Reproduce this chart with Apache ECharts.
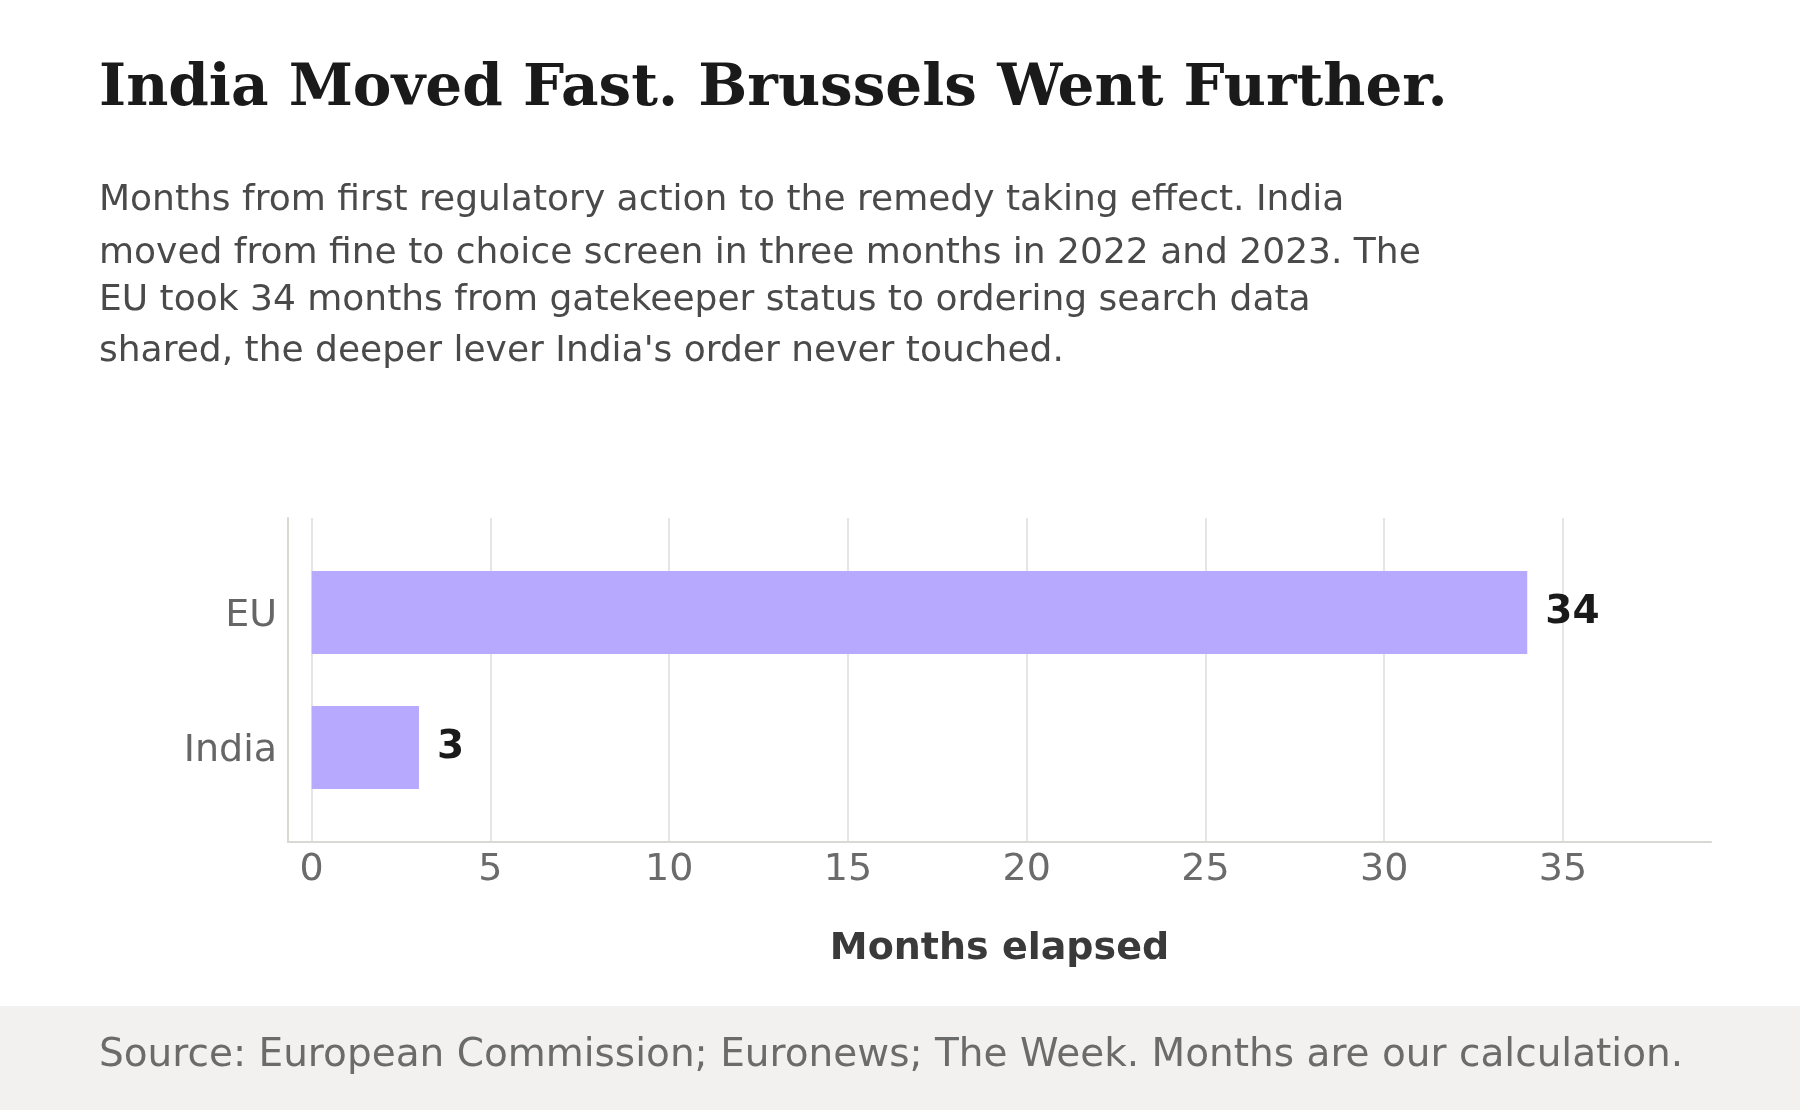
<!DOCTYPE html>
<html>
<head>
<meta charset="utf-8">
<script src="https://cdn.jsdelivr.net/npm/echarts@6/dist/echarts.min.js"></script>
<style>
  html, body { margin: 0; padding: 0; background: #ffffff; }
  #chart { width: 1800px; height: 1110px; }
</style>
</head>
<body>
<div id="chart"></div>
<script>
// ---- data ----
const categories = ['India', 'EU'];
const months = [3, 34];
const xTicks = [0, 5, 10, 15, 20, 25, 30, 35];
const titleText = 'India Moved Fast. Brussels Went Further.';
const subtitleLines = [
  'Months from first regulatory action to the remedy taking effect. India',
  'moved from fine to choice screen in three months in 2022 and 2023. The',
  'EU took 34 months from gatekeeper status to ordering search data',
  "shared, the deeper lever India's order never touched."
];
const axisTitle = 'Months elapsed';
const sourceText = 'Source: European Commission; Euronews; The Week. Months are our calculation.';

// ---- layout ----
const SANS = "'DejaVu Sans', sans-serif";
const SERIF = "'DejaVu Serif', serif";
const X_MIN = -0.663, X_MAX = 39.14;
const subtitleY = [201, 254, 301, 352];

const chart = echarts.init(document.getElementById('chart'), null, { renderer: 'canvas' });

const graphics = [
  { type: 'rect', shape: { x: 0, y: 1006, width: 1800, height: 104 }, style: { fill: '#f2f1ef' }, silent: true },
  { type: 'text', x: 99, y: 90, style: { text: titleText, font: 'bold 58px ' + SERIF, fill: '#1a1a1a', verticalAlign: 'middle' } },
  { type: 'text', x: 99, y: 1056, style: { text: sourceText, font: '39px ' + SANS, fill: '#6b6b6b', verticalAlign: 'middle' } }
];
subtitleLines.forEach((t, i) => {
  graphics.push({ type: 'text', x: 99, y: subtitleY[i], style: { text: t, font: '36px ' + SANS, fill: '#4a4a4a', verticalAlign: 'middle' } });
});

const option = {
  backgroundColor: '#ffffff',
  animation: false,
  grid: [
    { left: 288, right: 89, top: 518, bottom: 268 },
    { left: 288, right: 89, top: 545, bottom: 295 }
  ],
  xAxis: [
    {
      type: 'value', gridIndex: 0, min: X_MIN, max: X_MAX,
      axisLine: { show: true, onZero: false, lineStyle: { color: '#d9d8d2', width: 2 } },
      axisTick: { show: false, customValues: xTicks },
      axisLabel: { customValues: xTicks, margin: 9, fontFamily: SANS, fontSize: 38, color: '#6b6b6b' },
      splitLine: { show: true, lineStyle: { color: '#e6e5e1', width: 2 } },
      name: axisTitle, nameLocation: 'middle', nameGap: 88,
      nameTextStyle: { fontFamily: SANS, fontSize: 38, fontWeight: 'bold', color: '#3a3a3a' }
    },
    {
      type: 'value', gridIndex: 1, min: X_MIN, max: X_MAX, show: false,
      splitLine: { show: false }
    }
  ],
  yAxis: [
    {
      type: 'category', gridIndex: 0, data: categories,
      axisLine: { show: true, onZero: false, lineStyle: { color: '#d9d8d2', width: 2 } },
      axisTick: { show: false }, axisLabel: { show: false }, splitLine: { show: false }
    },
    {
      type: 'category', gridIndex: 1, data: categories,
      axisLine: { show: false }, axisTick: { show: false },
      axisLabel: { margin: 11, verticalAlign: 'top', lineHeight: 8, fontFamily: SANS, fontSize: 38, color: '#666666' }
    }
  ],
  series: [{
    type: 'bar', xAxisIndex: 1, yAxisIndex: 1,
    data: months, barWidth: 83,
    itemStyle: { color: '#b7a9fd' },
    label: {
      show: true, position: 'right', distance: 18,
      fontFamily: SANS, fontSize: 39, fontWeight: 'bold', color: '#1a1a1a'
    }
  }],
  graphic: graphics
};
chart.setOption(option);
</script>
</body>
</html>
